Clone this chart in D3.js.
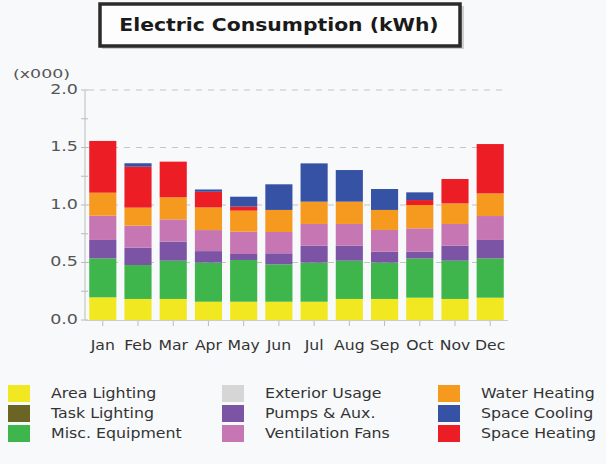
<!DOCTYPE html>
<html>
<head>
<meta charset="utf-8">
<script src="https://cdn.jsdelivr.net/npm/d3@7"></script>
<style>
  html, body { margin: 0; padding: 0; background: #f8f9fb; }
  svg { display: block; font-family: "DejaVu Sans", Verdana, sans-serif; }
</style>
</head>
<body>
<div id="chart"></div>
<script>
// DATA (x000 kWh)
const months = ["Jan","Feb","Mar","Apr","May","Jun","Jul","Aug","Sep","Oct","Nov","Dec"];
const areaLighting   = [0.197,0.183,0.183,0.159,0.159,0.159,0.159,0.183,0.183,0.194,0.183,0.194];
const taskLighting   = [0,0,0,0,0,0,0,0,0,0,0,0];
const miscEquipment  = [0.339,0.295,0.333,0.340,0.363,0.325,0.340,0.333,0.316,0.342,0.333,0.342];
const exteriorUsage  = [0,0,0,0,0,0,0,0,0,0,0,0];
const pumpsAux       = [0.160,0.151,0.165,0.100,0.052,0.096,0.147,0.130,0.095,0.058,0.130,0.160];
const ventilationFans= [0.211,0.191,0.194,0.183,0.194,0.185,0.189,0.189,0.189,0.203,0.189,0.208];
const waterHeating   = [0.200,0.157,0.192,0.197,0.183,0.192,0.194,0.194,0.174,0.203,0.179,0.197];
const spaceHeating   = [0.450,0.356,0.310,0.136,0.035,0,0,0,0,0.043,0.212,0.429];
const spaceCooling   = [0,0.030,0,0.020,0.086,0.223,0.333,0.275,0.182,0.067,0,0];
const yTicks = [0, 0.5, 1.0, 1.5, 2.0];

//SERIES
const series = [
  { name: "Area Lighting",    values: areaLighting,    color: "#f2e822" },
  { name: "Task Lighting",    values: taskLighting,    color: "#6b6525" },
  { name: "Misc. Equipment",  values: miscEquipment,   color: "#3fb64b" },
  { name: "Exterior Usage",   values: exteriorUsage,   color: "#d6d6d6" },
  { name: "Pumps & Aux.",     values: pumpsAux,        color: "#7b54a6" },
  { name: "Ventilation Fans", values: ventilationFans, color: "#c576b3" },
  { name: "Water Heating",    values: waterHeating,    color: "#f6991f" },
  { name: "Space Cooling",    values: spaceCooling,    color: "#3652a4" },
  { name: "Space Heating",    values: spaceHeating,    color: "#ec1d25" }
];
// heating is stacked below cooling
const stackOrder = ["Area Lighting","Task Lighting","Misc. Equipment","Exterior Usage",
  "Pumps & Aux.","Ventilation Fans","Water Heating","Space Heating","Space Cooling"];

const width = 606, height = 464;
const svg = d3.select("#chart").append("svg")
  .attr("width", width).attr("height", height);

// text looks a bit wider than DejaVu, so stretch it
const place = (sel, x, y, sx) => sel.attr("transform", `translate(${x},${y}) scale(${sx},1)`);

//TITLE
svg.append("rect")
  .attr("x", 102).attr("y", 6).attr("width", 362).attr("height", 43)
  .attr("fill", "#cfcfcf");
svg.append("rect")
  .attr("x", 100).attr("y", 4).attr("width", 360).attr("height", 42)
  .attr("fill", "#fdfdfd").attr("stroke", "#2a2a2a").attr("stroke-width", 3.5);
svg.append("text")
  .call(place, 279, 26, 1.13)
  .attr("text-anchor", "middle").attr("dominant-baseline", "middle")
  .attr("font-weight", "bold").attr("font-size", "18px").attr("fill", "#1a1a1a")
  .text("Electric Consumption (kWh)");

//SCALES
const x = d3.scaleBand().domain(months).range([85, 508]).paddingInner(0.23).paddingOuter(0.12);
const y = d3.scaleLinear().domain([0, 2]).range([320, 90]);

//GRID
svg.append("g")
  .selectAll("line")
  .data(yTicks.filter(d => d > 0))
  .join("line")
  .attr("x1", 88).attr("x2", 506)
  .attr("y1", d => y(d)).attr("y2", d => y(d))
  .attr("stroke", "#c4c4c4").attr("stroke-width", 1.2)
  .attr("stroke-dasharray", "6,6");

//STACK
const table = months.map((m, i) => {
  const row = { month: m };
  series.forEach(s => row[s.name] = s.values[i]);
  return row;
});
const stacked = d3.stack().keys(stackOrder)(table);
const colorOf = new Map(series.map(s => [s.name, s.color]));

svg.append("g")
  .selectAll("g")
  .data(stacked)
  .join("g")
  .attr("fill", d => colorOf.get(d.key))
  .selectAll("rect")
  .data(d => d.filter(p => p[1] - p[0] > 0))
  .join("rect")
  .attr("x", d => x(d.data.month))
  .attr("width", x.bandwidth())
  .attr("y", d => y(d[1]))
  .attr("height", d => y(d[0]) - y(d[1]));

//Y AXIS
const yAxis = svg.append("g");
yAxis.append("line")
  .attr("x1", 85).attr("x2", 85).attr("y1", y(2)).attr("y2", y(0))
  .attr("stroke", "#bbb");
yAxis.selectAll(".minor")
  .data(d3.range(0, 2.01, 0.25))
  .join("line")
  .attr("x1", 81).attr("x2", 88)
  .attr("y1", d => y(d)).attr("y2", d => y(d))
  .attr("stroke", "#bbb");
yAxis.selectAll("text")
  .data(yTicks)
  .join("text")
  .each(function (d) { place(d3.select(this), 78, y(d), 1.25); })
  .attr("text-anchor", "end").attr("dominant-baseline", "middle")
  .attr("font-size", "14px").attr("fill", "#555")
  .text(d => d3.format(".1f")(d));
svg.append("text")
  .call(place, 13, 78, 1.45)
  .attr("font-size", "12px").attr("fill", "#555")
  .text("(x000)");

//X AXIS
const xAxis = svg.append("g");
xAxis.append("line")
  .attr("x1", 85).attr("x2", 508).attr("y1", 320.5).attr("y2", 320.5)
  .attr("stroke", "#ccc");
xAxis.selectAll("line.tick")
  .data(months)
  .join("line")
  .attr("class", "tick")
  .attr("x1", d => x(d) + x.bandwidth() / 2).attr("x2", d => x(d) + x.bandwidth() / 2)
  .attr("y1", 321).attr("y2", 326)
  .attr("stroke", "#bbb");
xAxis.selectAll("text")
  .data(months)
  .join("text")
  .each(function (d) { place(d3.select(this), x(d) + x.bandwidth() / 2, 346, 1.12); })
  .attr("text-anchor", "middle").attr("dominant-baseline", "middle")
  .attr("font-size", "14px").attr("fill", "#333")
  .text(d => d);

//LEGEND
const colX = [8, 222, 438];
const legend = svg.append("g")
  .selectAll("g")
  .data(series)
  .join("g")
  .attr("transform", (d, i) => `translate(${colX[Math.floor(i / 3)]},${385 + (i % 3) * 20})`);
legend.append("rect")
  .attr("width", 22).attr("height", 17)
  .attr("fill", d => d.color);
legend.append("text")
  .call(place, 43, 9, 1.13)
  .attr("dominant-baseline", "middle")
  .attr("font-size", "14px").attr("fill", "#333")
  .text(d => d.name);
</script>
</body>
</html>
